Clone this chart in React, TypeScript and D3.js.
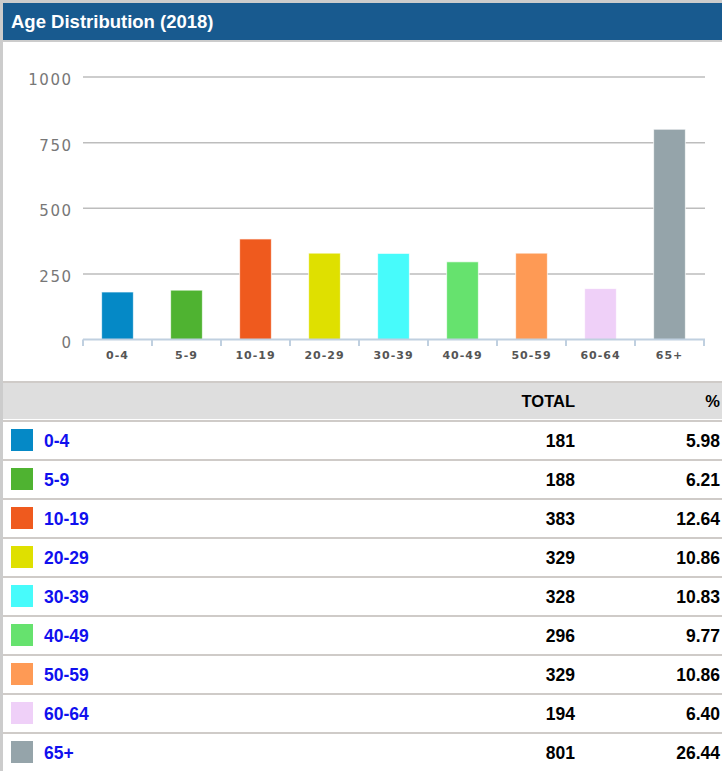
import React, { useEffect, useRef } from 'react';
import * as d3 from 'd3';

const groups = ['0-4', '5-9', '10-19', '20-29', '30-39', '40-49', '50-59', '60-64', '65+'];
const totals = [181, 188, 383, 329, 328, 296, 329, 194, 801];
const percents = ['5.98', '6.21', '12.64', '10.86', '10.83', '9.77', '10.86', '6.40', '26.44'];
const colors = ['#0589c6', '#4fb331', '#ef5a1e', '#dfe000', '#47fbfb', '#66e26e', '#fe9a55', '#efd0f8', '#95a4aa'];
const yTicks = [0, 250, 500, 750, 1000];

const W = 722;
const H = 771;

const App = () => {
    const svgRef = useRef<SVGSVGElement>(null);

    useEffect(() => {
        const svg = d3.select(svgRef.current);
        svg.selectAll('*').remove();

        const data = groups.map((g, i) => ({ group: g, total: totals[i], pct: percents[i], color: colors[i] }));

        // panel frame + header
        svg.append('rect').attr('width', W).attr('height', H).attr('fill', '#fff');
        svg.append('rect').attr('x', 0).attr('y', 0).attr('width', W).attr('height', 3).attr('fill', '#cccccc');
        svg.append('rect').attr('x', 3).attr('y', 3).attr('width', W - 3).attr('height', 37).attr('fill', '#185a8f');
        svg.append('rect').attr('x', 3).attr('y', 40).attr('width', W - 3).attr('height', 2).attr('fill', '#cccccc');
        svg.append('rect').attr('x', 0).attr('y', 0).attr('width', 3).attr('height', H).attr('fill', '#cccccc');

        svg.append('text')
            .attr('x', 11)
            .attr('y', 28)
            .attr('fill', '#fff')
            .style('font', 'bold 18.5px "Liberation Sans", Arial, sans-serif')
            .text('Age Distribution (2018)');

        // chart scales
        const x = d3.scaleBand().domain(groups).range([83, 704]).paddingInner(0.54).paddingOuter(0.27);
        const y = d3.scaleLinear().domain([0, 1000]).range([339.5, 77]);

        const g = svg.append('g');

        // grid lines + y labels
        g.selectAll('.grid')
            .data(yTicks.filter((t) => t > 0))
            .enter()
            .append('line')
            .attr('x1', 83)
            .attr('x2', 705)
            .attr('y1', (d) => y(d))
            .attr('y2', (d) => y(d))
            .attr('stroke', '#bdbdbd')
            .attr('stroke-width', 1.5);

        g.selectAll('.ylab')
            .data(yTicks)
            .enter()
            .append('text')
            .attr('x', 72.5)
            .attr('y', (d) => y(d) + 8)
            .attr('text-anchor', 'end')
            .attr('fill', '#777')
            .style('font', '15px "DejaVu Sans", Verdana, sans-serif')
            .style('letter-spacing', '1.5px')
            .text((d) => d);

        // bars
        g.selectAll('.bar')
            .data(data)
            .enter()
            .append('rect')
            .attr('x', (d) => x(d.group)!)
            .attr('y', (d) => y(d.total))
            .attr('width', x.bandwidth())
            .attr('height', (d) => y(0) - y(d.total))
            .attr('fill', (d) => d.color)
            .attr('stroke', '#ffffff')
            .attr('stroke-opacity', 0.7)
            .attr('stroke-width', 1);

        // x axis line and ticks
        g.append('line')
            .attr('x1', 83)
            .attr('x2', 705)
            .attr('y1', 339.5)
            .attr('y2', 339.5)
            .attr('stroke', '#c0d0e0')
            .attr('stroke-width', 2);

        const step = x.step();
        g.selectAll('.tick')
            .data(d3.range(groups.length + 1))
            .enter()
            .append('line')
            .attr('x1', (i) => 83 + i * step)
            .attr('x2', (i) => 83 + i * step)
            .attr('y1', 339.5)
            .attr('y2', 346)
            .attr('stroke', '#c0d0e0')
            .attr('stroke-width', 2);

        g.selectAll('.xlab')
            .data(groups)
            .enter()
            .append('text')
            .attr('x', (d) => x(d)! + x.bandwidth() / 2)
            .attr('y', 359)
            .attr('text-anchor', 'middle')
            .attr('fill', '#555')
            .style('font', 'bold 11px "DejaVu Sans", Verdana, sans-serif')
            .style('letter-spacing', '1px')
            .text((d) => d);

        // table
        const rowTop = 421;
        const rowH = 39;
        const tableFont = 'bold 17.5px "Liberation Sans", Arial, sans-serif';

        svg.append('rect').attr('x', 3).attr('y', 381).attr('width', W - 3).attr('height', 2).attr('fill', '#cfcbc8');
        svg.append('rect').attr('x', 3).attr('y', 383).attr('width', W - 3).attr('height', 36).attr('fill', '#dedede');
        svg.append('rect').attr('x', 3).attr('y', 420).attr('width', W - 3).attr('height', 2).attr('fill', '#cfcbc8');

        svg.append('text')
            .attr('x', 575)
            .attr('y', 407)
            .attr('text-anchor', 'end')
            .style('font', 'bold 16.5px "Liberation Sans", Arial, sans-serif')
            .text('TOTAL');
        svg.append('text')
            .attr('x', 720)
            .attr('y', 407)
            .attr('text-anchor', 'end')
            .style('font', 'bold 16.5px "Liberation Sans", Arial, sans-serif')
            .text('%');

        const rows = svg
            .selectAll('.row')
            .data(data)
            .enter()
            .append('g')
            .attr('transform', (d, i) => `translate(0,${rowTop + i * rowH})`);

        rows.filter((d, i) => i > 0)
            .append('rect')
            .attr('x', 3)
            .attr('y', -1)
            .attr('width', W - 3)
            .attr('height', 2)
            .attr('fill', '#cfcbc8');

        rows.append('rect')
            .attr('x', 11)
            .attr('y', 8)
            .attr('width', 22)
            .attr('height', 22)
            .attr('fill', (d) => d.color);

        rows.append('text')
            .attr('x', 44)
            .attr('y', 26)
            .attr('fill', '#1010ee')
            .style('font', tableFont)
            .text((d) => d.group);

        rows.append('text')
            .attr('x', 575)
            .attr('y', 26)
            .attr('text-anchor', 'end')
            .attr('fill', '#000')
            .style('font', tableFont)
            .text((d) => d.total);

        rows.append('text')
            .attr('x', 720)
            .attr('y', 26)
            .attr('text-anchor', 'end')
            .attr('fill', '#000')
            .style('font', tableFont)
            .text((d) => d.pct);
    }, []);

    return (
        <svg
            ref={svgRef}
            width={W}
            height={H}
            style={{ position: 'absolute', left: 0, top: 0, display: 'block' }}
        />
    );
};

export default App;
